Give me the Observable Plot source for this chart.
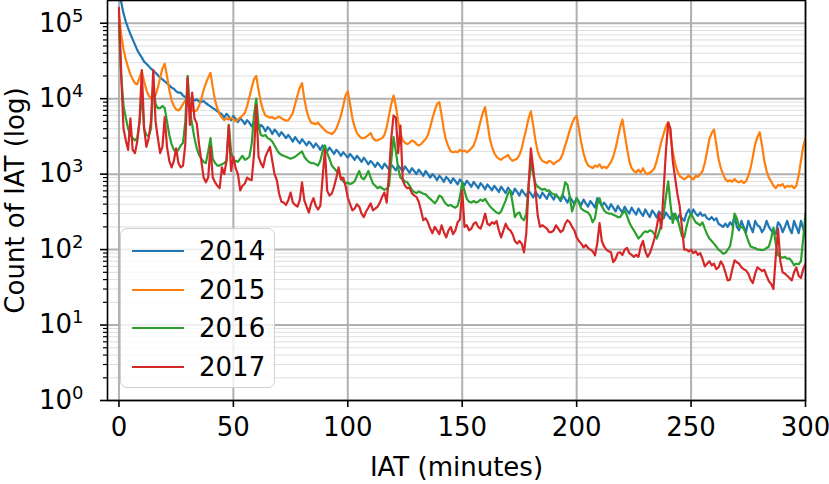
<!DOCTYPE html>
<html><head><meta charset="utf-8">
<script src="https://cdn.jsdelivr.net/npm/d3@7"></script>
<script src="https://cdn.jsdelivr.net/npm/@observablehq/plot@0.6"></script>
<style>
html,body{margin:0;padding:0;background:#fff;}
#wrap{position:relative;width:829px;height:484px;font-family:"DejaVu Sans",sans-serif;}
#legend{position:absolute;left:120px;top:228px;width:155px;height:160px;box-sizing:border-box;border:1.6px solid #d0d0d0;border-radius:7px;background:rgba(255,255,255,0.8);}
.row{position:absolute;left:0;height:30px;width:100%;}
.row .sw{position:absolute;left:11px;top:14px;width:52px;height:0;border-top:2.2px solid;}
.row .lb{position:absolute;left:78px;top:0;font-size:26px;line-height:30px;color:#000;}
</style></head><body><div id="wrap"></div>
<script>
const years = ["2014", "2015", "2016", "2017"];
const colors = ["#1f77b4", "#ff7f0e", "#2ca02c", "#d62728"];
const xTicks = [0, 50, 100, 150, 200, 250, 300];
const yTicks = [1, 10, 100, 1000, 10000, 100000];
const yTickLabels = ["10⁰", "10¹", "10²", "10³", "10⁴", "10⁵"];
const yTickExp = ["0", "1", "2", "3", "4", "5"];

// counts per IAT minute 0..300
const c2014 = [
300000,190000,135000,105000,86000,72000,61000,52000,44000,39000,
35000,31000,29000,27000,25000,23500,22000,20500,19000,18000,
17000,16000,15000,14000,13500,12500,12000,12000,11000,10500,
10500,10000,9800,9500,9700,9200,9000,9300,8700,8300,
7900,7500,7200,6800,6500,6200,5600,6300,5800,5200,
5900,5400,4900,5500,5100,4600,5200,4800,4300,4900,
4500,4000,4500,4200,3700,4200,3900,3400,3900,3600,
3200,3600,3300,3000,3300,3000,2700,3100,2800,2550,
2900,2650,2400,2700,2500,2250,2550,2350,2100,2400,
2200,2000,2250,2050,1850,2100,1950,1750,1950,1800,
1650,1850,1700,1550,1750,1600,1450,1650,1500,1350,
1500,1380,1250,1420,1300,1180,1380,1270,1150,1330,
1230,1120,1300,1200,1080,1270,1150,1040,1200,1100,
1000,1150,1050,950,1100,1000,900,1000,930,830,
950,880,790,920,850,760,880,810,730,850,
780,710,820,750,680,790,720,650,760,700,
630,730,670,610,700,640,580,680,620,560,
660,600,540,640,580,520,620,560,510,600,
550,490,580,530,480,570,520,470,560,510,
460,540,490,440,520,470,420,500,450,400,
480,430,390,460,410,370,440,400,360,480,
430,380,420,380,340,400,360,320,380,340,
310,370,330,300,360,320,290,350,310,280,
340,300,270,330,300,265,320,290,260,310,
280,255,300,270,245,290,260,240,300,340,
290,340,300,280,310,280,290,260,250,270,
245,260,220,210,200,220,200,230,210,280,
200,180,240,200,170,240,200,170,240,210,
200,170,190,240,200,180,170,160,230,210,
170,200,240,190,165,240,200,165,240,190,
145];

const c2015 = [
130000,70000,45000,33000,26000,21000,18000,16000,15500,19000,
23000,17000,13000,11000,10000,10000,11000,14000,19000,25000,
29000,20000,13000,9500,8000,7200,7000,7500,8500,9500,
10000,8500,7000,6800,7000,8000,10000,13000,16000,19000,
22000,14000,9500,7500,6200,5600,5200,5500,5300,5600,
5400,5000,5300,5600,6000,6500,8000,10500,14000,18000,
20000,13000,9000,7000,6000,5800,5600,5700,5400,5600,
5800,5500,5300,5100,5200,5700,6500,8500,11000,14000,
16000,10000,7000,5500,4800,4700,4600,4800,4400,4100,
3800,3600,3500,3400,3600,4000,4800,6000,8000,11000,
12500,8500,5500,4200,3500,3200,3000,3000,3100,3300,
3500,3000,2800,2800,2900,3000,3300,4200,6000,8500,
11000,8000,5000,3500,2800,2600,2500,2600,2800,2700,
2500,2400,2500,2700,2900,3300,4200,5500,7000,8500,
9000,6000,3800,2800,2300,2000,1950,2000,1950,2100,
2000,2050,1950,2050,2200,2400,2900,3800,5000,6500,
7700,4800,3000,2300,1900,1700,1600,1550,1650,1700,
1800,1600,1500,1550,1600,1800,2200,3000,4000,5500,
6800,4500,2800,2000,1650,1500,1450,1400,1500,1450,
1350,1450,1500,1600,1900,2400,3000,3800,4700,5500,
5900,4000,2600,1900,1500,1300,1250,1200,1300,1250,
1350,1200,1250,1200,1300,1450,1700,2200,3000,4200,
5300,3400,2200,1500,1200,1100,1050,1150,1050,1200,
1050,1000,1050,1100,1200,1500,2000,2700,3400,4300,
4900,3200,2000,1400,1100,950,900,850,900,960,
900,850,950,920,1000,1100,1400,2000,2900,3500,
3900,2500,1600,1200,1000,850,800,830,790,860,
800,780,820,760,800,950,1200,1700,2500,3100,
3600,2400,1500,1100,900,800,700,650,720,700,
740,660,700,680,700,650,700,950,1500,2300,
3000];

const c2016 = [
100000,20000,8000,5600,4000,3300,3000,2800,3000,5000,
12000,4000,3300,3200,4000,15000,8500,7500,7500,8000,
7500,5000,3300,2500,2100,1950,2100,2400,2600,5000,
20000,7000,4500,3000,2200,1800,1600,1450,1400,2000,
3000,1600,1400,1300,1300,1350,1400,1500,4500,2000,
1500,1500,1450,1600,1750,1550,1600,1700,2500,6000,
10000,4500,3300,3200,3300,3000,2900,2700,2400,2100,
1900,1800,1750,1700,1650,1600,1650,1700,1800,1900,
2000,1700,1550,1450,1400,1400,1350,1300,1500,2000,
2400,1900,1600,1300,1200,1100,1050,900,800,760,
770,740,760,800,950,1100,900,850,950,1100,
900,750,700,650,680,650,620,640,700,1500,
3100,2000,1200,900,850,800,780,700,620,580,
560,590,570,550,540,500,470,440,410,450,
520,500,440,400,380,390,370,360,380,500,
780,600,470,430,420,440,420,430,460,440,
470,420,380,350,330,310,300,320,380,450,
550,610,420,270,300,310,260,245,300,700,
1450,1000,750,680,650,620,640,600,610,560,
540,520,490,470,550,780,720,500,320,400,
480,420,350,330,320,310,280,230,260,400,
480,380,330,310,300,300,290,280,270,270,
300,330,280,230,200,180,160,140,150,165,
175,170,180,175,160,140,170,220,300,500,
800,400,225,300,260,200,150,145,200,260,
300,260,230,220,210,230,190,160,140,130,
120,110,100,95,88,90,100,110,160,300,
260,200,200,190,160,130,110,107,105,100,
100,98,100,105,110,140,195,120,85,80,
78,80,76,76,70,62,65,64,70,140,
300];

const c2017 = [
160000,20000,4000,2800,2100,5500,2100,1900,2700,5000,
24000,4000,2300,3000,5000,24000,5000,3000,1900,2300,
5700,2300,1500,1230,1500,2200,1400,1230,1300,2500,
19000,4500,12000,5500,4700,2500,1500,900,780,900,
2300,900,780,700,650,1230,1000,1500,4400,1100,
1700,1200,1000,610,700,750,900,850,830,1800,
8200,1700,1400,1230,1700,2000,2300,1500,1000,830,
550,430,420,390,450,570,420,390,370,450,
780,450,370,310,410,480,380,340,380,900,
2100,600,520,550,680,900,1230,850,900,700,
490,400,330,350,400,370,300,270,320,360,
410,330,350,370,420,500,570,420,1000,3000,
6000,5600,1900,4400,830,700,650,660,560,520,
500,430,330,245,260,230,190,165,200,180,
160,210,170,145,180,200,160,180,230,250,
610,200,210,180,190,220,230,200,190,230,
300,220,210,230,220,240,180,145,180,220,
190,180,160,130,120,130,120,92,165,700,
2200,1200,610,280,200,210,200,190,170,170,
180,210,190,170,180,220,245,230,200,180,
145,130,120,107,115,105,100,95,84,120,
225,130,110,100,95,92,68,75,90,92,
85,100,105,90,85,80,85,80,110,130,
95,80,90,110,140,200,300,190,600,2000,
4800,4000,1500,900,550,380,200,100,100,95,
100,90,95,85,90,75,60,65,70,62,
65,55,58,70,62,50,39,40,55,72,
68,65,58,55,53,48,40,36,48,58,
55,52,54,45,38,35,30,80,190,70,
50,48,45,42,39,50,58,45,42,55,
65];

const series = [c2014, c2015, c2016, c2017];
const minorY = [];
for (let e = 0; e <= 5; e++) for (let k = 2; k <= 9; k++) { const v = k * 10 ** e; if (v < 2e5) minorY.push(v); }

const lineMarks = series.map((vals, i) =>
  Plot.lineY(vals.map((v, m) => ({minute: m, count: v})), {x: "minute", y: "count", stroke: colors[i], strokeWidth: 2.2, clip: true})
);

const chart = Plot.plot({
  width: 829, height: 484,
  marginLeft: 107, marginRight: 24, marginTop: 0, marginBottom: 84,
  x: {domain: [-5, 300]},
  y: {type: "log", domain: [1, 2e5]},
  style: {fontFamily: "'DejaVu Sans', sans-serif", fontSize: "26px", color: "black", background: "white", overflow: "visible"},
  marks: [
    Plot.ruleY(minorY, {stroke: "#dedede", strokeWidth: 1}),
    Plot.ruleY(yTicks, {stroke: "#b0b0b0", strokeWidth: 2}),
    Plot.ruleX(xTicks, {stroke: "#b0b0b0", strokeWidth: 2}),
    ...lineMarks,
    Plot.frame({stroke: "black", strokeWidth: 1.6}),
    Plot.axisX(xTicks, {tickSize: 7, tickPadding: 10, strokeWidth: 1.6, fontSize: 26, label: "IAT (minutes)", labelAnchor: "center", labelOffset: 75, labelArrow: "none"}),
    Plot.axisY(yTicks, {tickSize: 7, tickPadding: 17, strokeWidth: 1.6, fontSize: 26, tickFormat: d => yTickLabels[yTicks.indexOf(d)], label: "Count of IAT (log)", labelAnchor: "center", labelOffset: 102, labelArrow: "none"}),
    Plot.axisY(minorY, {tickSize: 4, strokeWidth: 1.2, tickFormat: () => "", label: null})
  ]
});
// render tick exponents as raised, smaller text like mathtext
chart.querySelectorAll("text").forEach(t => {
  const i = yTickLabels.indexOf(t.textContent);
  if (i >= 0) {
    t.textContent = "10";
    const s = document.createElementNS("http://www.w3.org/2000/svg", "tspan");
    s.setAttribute("font-size", "18px");
    s.setAttribute("dy", "-10");
    s.textContent = yTickExp[i];
    t.appendChild(s);
  }
});
const wrap = document.getElementById("wrap");
wrap.appendChild(chart);
const leg = document.createElement("div");
leg.id = "legend";
years.forEach((y, i) => {
  const r = document.createElement("div");
  r.className = "row";
  r.style.top = (7 + i * 38.5) + "px";
  r.innerHTML = `<span class="sw" style="border-color:${colors[i]}"></span><span class="lb">${y}</span>`;
  leg.appendChild(r);
});
wrap.appendChild(leg);
</script></body></html>
